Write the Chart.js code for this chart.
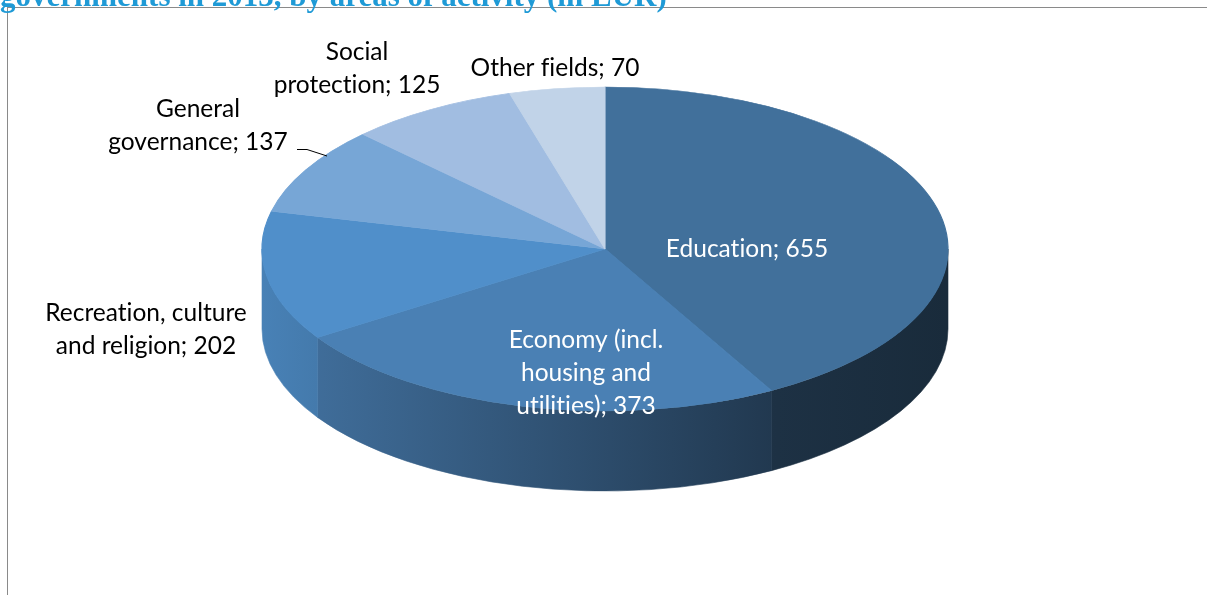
<!DOCTYPE html>
<html>
<head>
<meta charset="utf-8">
<script src="https://cdn.jsdelivr.net/npm/chart.js@4.4.1/dist/chart.umd.min.js"></script>
<style>
    html, body { margin: 0; padding: 0; background: #fff; overflow: hidden; }
    #frame {
        position: absolute; left: 7px; top: 7px; width: 1400px; height: 800px;
        border: 1px solid #8a8a8a; box-sizing: border-box;
    }
    #chart { position: absolute; left: 0; top: 0; }
</style>
</head>
<body>
<div id="frame"></div>
<canvas id="chart" width="1207" height="595"></canvas>
<script>
    // data (line breaks in category names are where the label wraps)
    const categories = [
        'Education',
        'Economy (incl.\nhousing and\nutilities)',
        'Recreation, culture\nand religion',
        'General\ngovernance',
        'Social\nprotection',
        'Other fields'
    ];
    const values = [655, 373, 202, 137, 125, 70];
    const sliceColors = ['#41709b', '#4a80b4', '#508fca', '#77a6d6', '#a1bde1', '#c1d3e8'];
    const titleText = 'governments in 2013, by areas of activity (in EUR)';

    // look of the 3-D disc and where its labels sit
    const PIE = { cx: 605, cy: 249, rx: 343, ry: 162, depth: 80 };
    const LINE_H = 33;
    const labelSpots = [
        { x: 747, y: 249, color: '#ffffff' },
        { x: 586, y: 340, color: '#ffffff' },
        { x: 146, y: 313, color: '#000000' },
        { x: 198, y: 109, color: '#000000' },
        { x: 357, y: 52, color: '#000000' },
        { x: 555, y: 68, color: '#000000' }
    ];

    function shade(hex, f) {
        const n = parseInt(hex.slice(1), 16);
        const r = Math.round(((n >> 16) & 255) * f);
        const g = Math.round(((n >> 8) & 255) * f);
        const b = Math.round((n & 255) * f);
        return 'rgb(' + r + ',' + g + ',' + b + ')';
    }

    // keep Lato from joining ti / fi / fl (the original font has no ligatures)
    function noLig(s) {
        return s.replace(/([tf])([il])/g, '$1\u200C$2');
    }

    const pie3d = {
        id: 'pie3d',
        beforeDatasetsDraw(chart) {
            const ctx = chart.ctx;
            const arcs = chart.getDatasetMeta(0).data;
            const first = arcs[0];
            if (!first) return;
            const { cx, cy, rx, ry, depth } = PIE;

            // side walls: only the front half (angles 0..PI) can be seen
            arcs.forEach(function (arc, i) {
                const a = Math.max(arc.startAngle, 0);
                const b = Math.min(arc.endAngle, Math.PI);
                if (b <= a) return;
                const grad = ctx.createLinearGradient(cx - rx, 0, cx + rx, 0);
                const c = sliceColors[i];
                grad.addColorStop(0, shade(c, 0.9));
                grad.addColorStop(0.75, shade(c, 0.44));
                grad.addColorStop(1, shade(c, 0.38));
                ctx.save();
                ctx.beginPath();
                ctx.ellipse(cx, cy, rx, ry, 0, a, b);
                ctx.lineTo(cx + rx * Math.cos(b), cy + depth + ry * Math.sin(b));
                ctx.ellipse(cx, cy + depth, rx, ry, 0, b, a, true);
                ctx.closePath();
                ctx.fillStyle = grad;
                ctx.fill();
                ctx.strokeStyle = grad;
                ctx.lineWidth = 0.6;
                ctx.stroke();
                ctx.restore();
            });

            // squash the library's flat pie onto the top of the disc
            ctx.save();
            ctx.translate(cx, cy);
            ctx.scale(rx / first.outerRadius, ry / first.outerRadius);
            ctx.translate(-first.x, -first.y);
        },
        afterDatasetsDraw(chart) {
            chart.ctx.restore();
        },
        afterDraw(chart) {
            const ctx = chart.ctx;
            ctx.save();

            // clipped title above the frame
            ctx.font = 'bold 31px "Liberation Serif"';
            ctx.fillStyle = '#1f9ad6';
            ctx.textAlign = 'left';
            ctx.textBaseline = 'alphabetic';
            ctx.fillText(titleText, 0, 6, 675);

            // data labels
            ctx.font = '24.5px Lato';
            ctx.textAlign = 'center';
            ctx.textBaseline = 'middle';
            categories.forEach(function (cat, i) {
                const lines = (cat + '; ' + values[i]).split('\n');
                const spot = labelSpots[i];
                ctx.fillStyle = spot.color;
                lines.forEach(function (ln, k) {
                    ctx.fillText(noLig(ln), spot.x, spot.y + k * LINE_H);
                });
            });

            // leader line for General governance
            ctx.strokeStyle = '#000';
            ctx.lineWidth = 1;
            ctx.beginPath();
            ctx.moveTo(297, 149.5);
            ctx.lineTo(307, 149.5);
            ctx.lineTo(327, 156);
            ctx.stroke();
            ctx.restore();
        }
    };

    new Chart(document.getElementById('chart'), {
        type: 'pie',
        data: {
            labels: categories,
            datasets: [{
                data: values,
                backgroundColor: sliceColors,
                borderColor: sliceColors,
                borderWidth: 1
            }]
        },
        options: {
            responsive: false,
            animation: false,
            events: [],
            layout: { padding: 0 },
            plugins: { legend: { display: false }, tooltip: { enabled: false } }
        },
        plugins: [pie3d]
    });
</script>
</body>
</html>
